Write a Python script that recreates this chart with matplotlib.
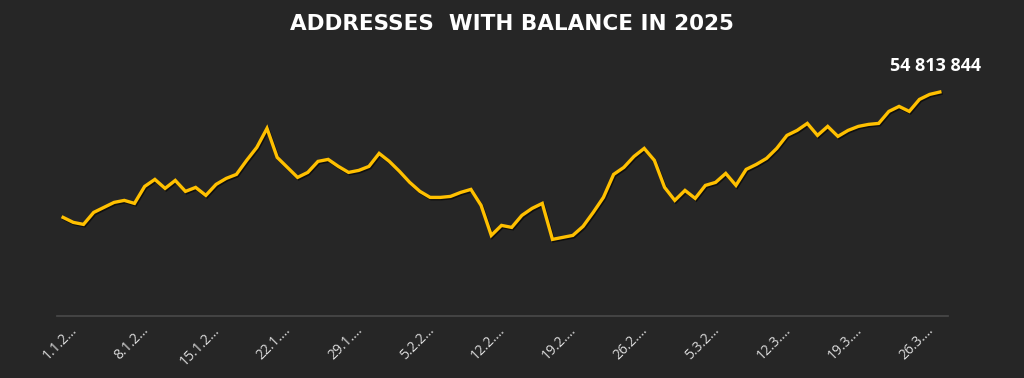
import matplotlib.pyplot as plt
import matplotlib.patheffects as pe
import matplotlib.transforms as mtransforms

# daily values 1.1.2025 - 28.3.2025, millions of addresses
values = [53.56, 53.51, 53.49, 53.61, 53.66, 53.71, 53.73, 53.70, 53.87, 53.94,
          53.85, 53.93, 53.82, 53.86, 53.78, 53.89, 53.95, 53.99, 54.13, 54.26,
          54.45, 54.16, 54.06, 53.96, 54.01, 54.12, 54.14, 54.07, 54.01, 54.03,
          54.07, 54.20, 54.12, 54.02, 53.91, 53.82, 53.76, 53.76, 53.77, 53.81,
          53.84, 53.68, 53.38, 53.48, 53.46, 53.58, 53.65, 53.70, 53.34, 53.36,
          53.38, 53.47, 53.61, 53.76, 53.99, 54.06, 54.17, 54.25, 54.13, 53.86,
          53.73, 53.83, 53.75, 53.88, 53.91, 54.00, 53.88, 54.04, 54.09, 54.15,
          54.25, 54.38, 54.43, 54.50, 54.38, 54.47, 54.37, 54.43, 54.47, 54.49,
          54.50, 54.62, 54.67, 54.62, 54.74, 54.79, 54.813844]
tick_pos = [0, 7, 14, 21, 28, 35, 42, 49, 56, 63, 70, 77, 84]
tick_labels = ["1.1.2…", "8.1.2…", "15.1.2…", "22.1.…", "29.1.…", "5.2.2…", "12.2.…",
               "19.2.…", "26.2.…", "5.3.2…", "12.3.…", "19.3.…", "26.3.…"]
title = "ADDRESSES  WITH BALANCE IN 2025"

bg = "#262626"
line_color = "#FFC000"

fig = plt.figure(figsize=(10.24, 3.78), dpi=100, facecolor=bg)
ax = fig.add_axes([57 / 1024, 62 / 378, 891 / 1024, 256 / 378], facecolor=bg)

x = list(range(len(values)))
ax.plot(x, values, color=line_color, lw=2.4, solid_joinstyle="miter",
        path_effects=[pe.SimpleLineShadow(offset=(0.8, -1.0), shadow_color="black", alpha=0.6),
                      pe.Normal()])

ax.set_xlim(-0.6, 86.8)
ax.set_ylim(52.574, 55.134)

for s in ["top", "right", "left"]:
    ax.spines[s].set_visible(False)
ax.spines["bottom"].set_color("#4a4a4a")
ax.spines["bottom"].set_linewidth(1.2)
ax.set_yticks([])
ax.set_xticks(tick_pos)
ax.set_xticklabels(tick_labels, rotation=45, ha="right", va="top",
                   color="#dcdcdc", fontsize=10, family="Open Sans")
ax.tick_params(axis="x", length=0, pad=5)
shift = mtransforms.ScaledTranslation(17 / 100, 0, fig.dpi_scale_trans)
for lab in ax.get_xticklabels():
    lab.set_transform(lab.get_transform() + shift)

last = values[-1]
ax.annotate(f"{round(last * 1e6):,}".replace(",", " "), (x[-1], last),
            xytext=(-3, 19), textcoords="offset points", ha="center", va="center",
            color="white", fontsize=13, fontweight="bold", family="Open Sans")

fig.text(0.5, 1 - 24 / 378, title, ha="center", va="center", color="white",
         fontsize=15.5, fontweight="bold", family="DejaVu Sans")

fig.savefig("out.png", dpi=100, facecolor=bg)
